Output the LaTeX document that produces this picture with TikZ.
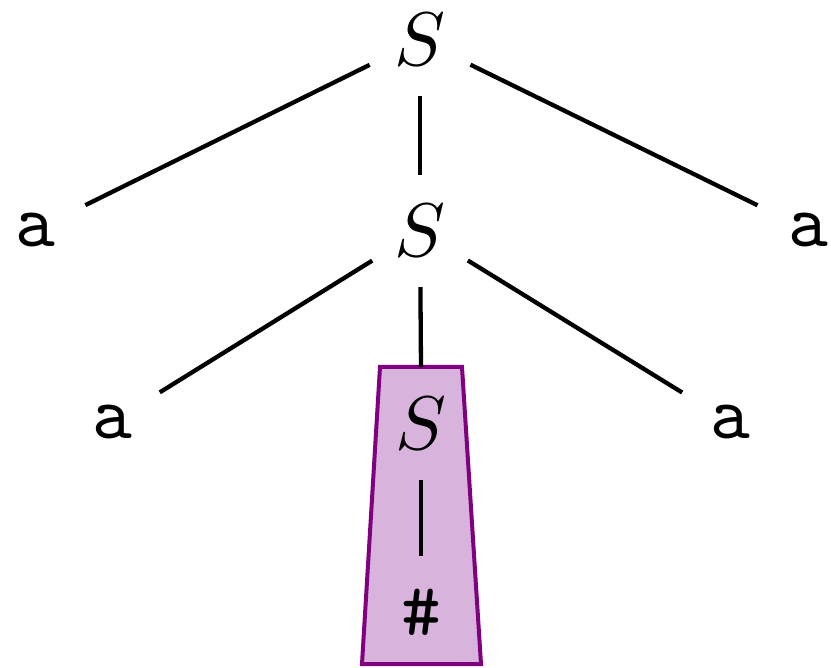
\documentclass[tikz,border=0pt]{standalone}
\usepackage{graphicx}
\usepackage{tikz}
\definecolor{boxfill}{RGB}{216,180,220}
\definecolor{boxline}{RGB}{128,0,128}
\newcommand{\treelabel}[1]{\scalebox{7.6}{#1}}
\begin{document}
\begin{tikzpicture}[x=1pt,y=-1pt,
  sym/.style={circle,minimum size=112pt,inner sep=0pt},
  edge/.style={line width=4.3pt}]
\useasboundingbox (0,0) rectangle (831,668);
% highlighted subtree
\draw[fill=boxfill,draw=boxline,line width=4pt,line join=miter]
  (380,367) -- (462,367) -- (481,664) -- (362,664) -- cycle;
\coordinate (boxtop) at (421,367);
% nodes
\node[sym] (s1) at (420,40) {\treelabel{$S$}};
\node[sym] (s2) at (420,231) {\treelabel{$S$}};
\node[sym] (s3) at (421,424) {\treelabel{$S$}};
\node[sym] (a1) at (35,230) {\treelabel{\texttt{a}}};
\node[sym] (a2) at (808,230) {\treelabel{\texttt{a}}};
\node[sym] (a3) at (112,422) {\treelabel{\texttt{a}}};
\node[sym] (a4) at (730,422) {\treelabel{\texttt{a}}};
\node[sym] (h) at (421,612) {\treelabel{\texttt{\#}}};
% edges
\draw[edge] (s1) -- (a1);
\draw[edge] (s1) -- (a2);
\draw[edge] (s1) -- (s2);
\draw[edge] (s2) -- (a3);
\draw[edge] (s2) -- (a4);
\draw[edge] (s2) -- (boxtop);
\draw[edge] (s3) -- (h);
\end{tikzpicture}
\end{document}
